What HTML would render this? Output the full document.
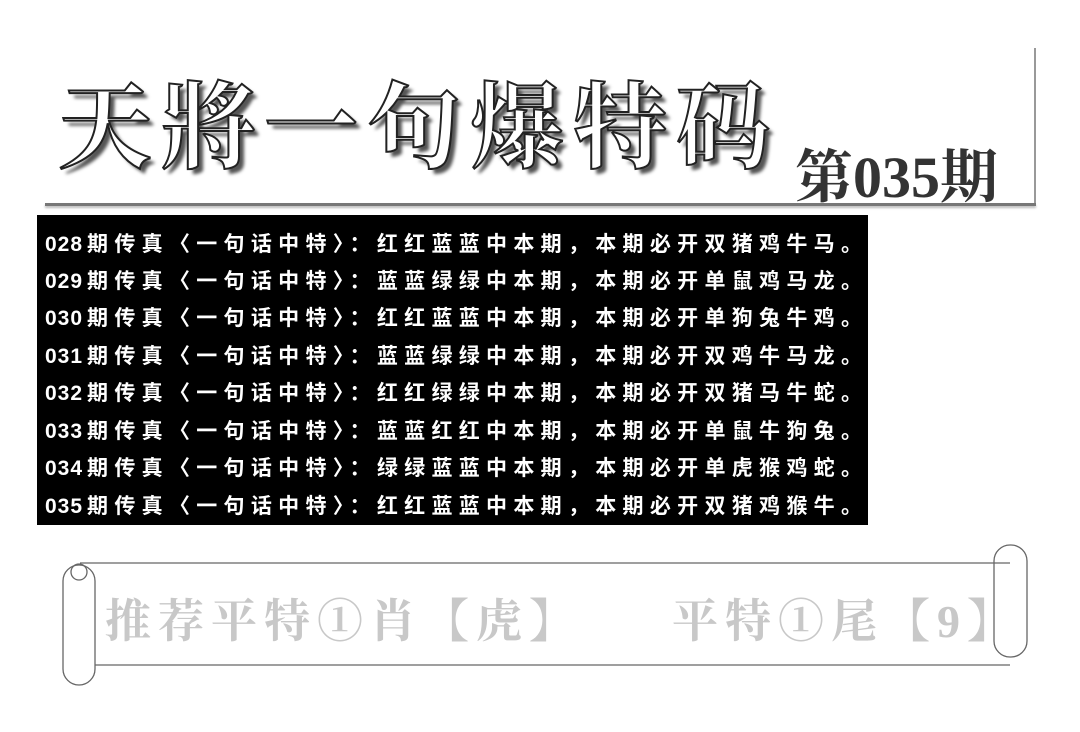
<!DOCTYPE html>
<html><head><meta charset="utf-8"><style>
body{margin:0;width:1080px;height:732px;background:#fff;position:relative;overflow:hidden;font-family:"Liberation Sans","Noto Sans CJK SC",sans-serif}
.t{position:absolute;left:58px;top:52px;font-family:"Liberation Serif","Noto Serif CJK SC",serif;font-size:94px;letter-spacing:9px;color:#fff;-webkit-text-stroke:2px #222;text-shadow:5px 5px 3px #555;white-space:nowrap;font-weight:700}
.q{position:absolute;left:795px;top:130px;font-family:"Liberation Serif","Noto Serif CJK SC",serif;font-size:58px;font-weight:bold;color:#333;white-space:nowrap}
.box{position:absolute;left:37px;top:215px;width:831px;height:310px;background:#000}
.l{position:absolute;left:8px;color:#fff;font-size:21px;font-weight:bold;white-space:nowrap;letter-spacing:6.3px}
.l b{letter-spacing:1px;font-size:21px;margin-right:4px}
.s{position:absolute;top:585px;font-family:"Liberation Serif","Noto Serif CJK SC",serif;font-size:46px;color:#c8c8c8;white-space:nowrap;letter-spacing:7px;font-weight:bold}
</style></head><body>
<div style="position:absolute;left:1034px;top:48px;width:2px;height:158px;background:#999"></div>
<div style="position:absolute;left:45px;top:203px;width:991px;height:3px;background:#777;box-shadow:0 2px 2px #bbb"></div>
<div class="t">天將一句爆特码</div>
<div class="q">第035期</div>
<div class="box">
<div class="l" style="top:13px"><b>028</b>期传真〈一句话中特〉：红红蓝蓝中本期，本期必开双猪鸡牛马。</div>
<div class="l" style="top:50px"><b>029</b>期传真〈一句话中特〉：蓝蓝绿绿中本期，本期必开单鼠鸡马龙。</div>
<div class="l" style="top:87px"><b>030</b>期传真〈一句话中特〉：红红蓝蓝中本期，本期必开单狗兔牛鸡。</div>
<div class="l" style="top:125px"><b>031</b>期传真〈一句话中特〉：蓝蓝绿绿中本期，本期必开双鸡牛马龙。</div>
<div class="l" style="top:162px"><b>032</b>期传真〈一句话中特〉：红红绿绿中本期，本期必开双猪马牛蛇。</div>
<div class="l" style="top:200px"><b>033</b>期传真〈一句话中特〉：蓝蓝红红中本期，本期必开单鼠牛狗兔。</div>
<div class="l" style="top:237px"><b>034</b>期传真〈一句话中特〉：绿绿蓝蓝中本期，本期必开单虎猴鸡蛇。</div>
<div class="l" style="top:275px"><b>035</b>期传真〈一句话中特〉：红红蓝蓝中本期，本期必开双猪鸡猴牛。</div>
</div>
<svg style="position:absolute;left:0;top:0" width="1080" height="732">
<g fill="none" stroke="#666" stroke-width="1.3">
<path d="M80 563 L1010 563"/>
<path d="M95 665 L1010 665"/>
<rect x="63" y="565" width="32" height="120" rx="16"/>
<circle cx="79" cy="572" r="8"/>
<rect x="994" y="545" width="33" height="112" rx="16"/>
</g>
</svg>
<div class="s" style="left:105px">推荐平特①肖【虎】</div>
<div class="s" style="left:672px">平特①尾【9】</div>
</body></html>
